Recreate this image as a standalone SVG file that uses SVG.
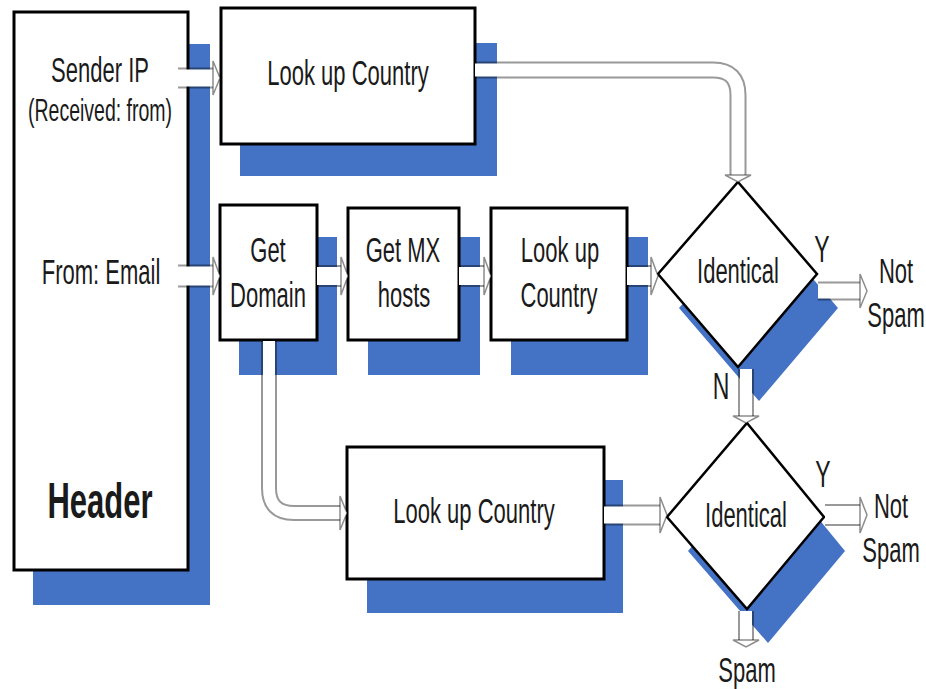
<svg xmlns="http://www.w3.org/2000/svg" width="926" height="689" viewBox="0 0 926 689">
<style>
.sh{fill:#4472C4}
.bx{fill:#fff;stroke:#000;stroke-width:3}
.dm{fill:#fff;stroke:#000;stroke-width:2.5}
.ao{fill:none;stroke:rgba(0,0,0,0.4)}
.ai{fill:none;stroke:#fff}
.ah{fill:#fff;stroke:rgba(0,0,0,0.45);stroke-width:1.5;stroke-linejoin:miter}
.t{font-family:"Liberation Sans",Arial,sans-serif;font-size:22px;fill:#1a1a1a;text-anchor:middle}
.hb{font-weight:bold;font-size:31px}
.yn{font-size:23px}
</style>
<rect width="926" height="689" fill="#fff"/>

<g id="header">
<rect class="sh" x="33" y="44" width="177" height="561"/>
<rect class="bx" x="14" y="12" width="174" height="558"/>
</g>
<g id="lookup-top">
<rect class="sh" x="240" y="43" width="257" height="133"/>
<rect class="bx" x="221" y="8" width="254" height="136"/>
</g>
<g id="get-domain">
<rect class="sh" x="239" y="237" width="98" height="138"/>
<rect class="bx" x="220" y="205" width="97" height="135"/>
</g>
<g id="get-mx">
<rect class="sh" x="368" y="237" width="112" height="138"/>
<rect class="bx" x="348" y="208" width="111" height="132"/>
</g>
<g id="lookup-mid">
<rect class="sh" x="511" y="237" width="137" height="138"/>
<rect class="bx" x="491" y="208" width="136" height="132"/>
</g>
<g id="lookup-bottom">
<rect class="sh" x="367" y="480" width="256" height="133"/>
<rect class="bx" x="347" y="447" width="257" height="132"/>
</g>
<g id="identical-1">
<polygon class="sh" points="759,216 838,308 759,401 679,308"/>
<polygon class="dm" points="738,182 817,274 738,367 658,274"/>
</g>
<g id="identical-2">
<polygon class="sh" points="768,457 845,551 768,643 688,551"/>
<polygon class="dm" points="747,423 824,517 747,609 667,517"/>
</g>

<g id="connectors">
<path class="ao" stroke-width="21" d="M178,78 H213"/><path class="ai" stroke-width="17" d="M178,78 H213"/>
<polygon class="ah" points="213,61 220,78 213,95"/>

<path class="ao" stroke-width="23" d="M178,276 H213"/><path class="ai" stroke-width="19" d="M178,276 H213"/>
<polygon class="ah" points="213,257 220,276 213,295"/>

<path class="ao" stroke-width="22" d="M317,276 H341"/><path class="ai" stroke-width="18" d="M317,276 H341"/>
<polygon class="ah" points="341,257 348,276 341,295"/>

<path class="ao" stroke-width="22" d="M459,276 H484"/><path class="ai" stroke-width="18" d="M459,276 H484"/>
<polygon class="ah" points="484,257 491,276 484,295"/>

<path class="ao" stroke-width="22" d="M627,276 H651"/><path class="ai" stroke-width="18" d="M627,276 H651"/>
<polygon class="ah" points="651,257 658,276 651,295"/>

<path class="ao" stroke-width="17" d="M475,70 H713 Q738,70 738,95 V175"/><path class="ai" stroke-width="13" d="M475,70 H713 Q738,70 738,95 V175"/>
<polygon class="ah" points="725,175 738,182 751,175"/>

<path class="ao" stroke-width="19" d="M818,291 H860"/><path class="ai" stroke-width="15" d="M818,291 H860"/>
<polygon class="ah" points="860,274 867,291 860,308"/>

<path class="ao" stroke-width="16" d="M746,369 V416"/><path class="ai" stroke-width="12" d="M746,369 V416"/>
<polygon class="ah" points="733,416 746,423 759,416"/>

<path class="ao" stroke-width="21" d="M604,515 H660"/><path class="ai" stroke-width="17" d="M604,515 H660"/>
<polygon class="ah" points="660,497 667,515 660,533"/>

<path class="ao" stroke-width="16" d="M269,341 V488 Q269,513 294,513 H340"/><path class="ai" stroke-width="12" d="M269,341 V488 Q269,513 294,513 H340"/>
<polygon class="ah" points="340,496 347,513 340,530"/>

<path class="ao" stroke-width="22" d="M825,515 H860"/><path class="ai" stroke-width="18" d="M825,515 H860"/>
<polygon class="ah" points="860,497 867,515 860,533"/>

<path class="ao" stroke-width="16" d="M746,611 V640"/><path class="ai" stroke-width="12" d="M746,611 V640"/>
<polygon class="ah" points="733,640 746,647 759,640"/>
</g>

<g id="labels">
<text class="t" transform="translate(100,82) scale(1,1.6)">Sender IP</text>
<text class="t" transform="translate(100,121) scale(1,1.6)" style="font-size:19.5px">(Received: from)</text>
<text class="t" transform="translate(101,284) scale(1,1.6)">From: Email</text>
<text class="t hb" transform="translate(100,518) scale(1,1.6)">Header</text>
<text class="t" transform="translate(348,85) scale(1,1.6)">Look up Country</text>
<text class="t" transform="translate(268,262) scale(1,1.6)">Get</text>
<text class="t" transform="translate(268,307) scale(1,1.6)">Domain</text>
<text class="t" transform="translate(403,262) scale(1,1.6)">Get MX</text>
<text class="t" transform="translate(404,307) scale(1,1.6)">hosts</text>
<text class="t" transform="translate(560,262) scale(1,1.6)">Look up</text>
<text class="t" transform="translate(559,307) scale(1,1.6)">Country</text>
<text class="t" transform="translate(738,283) scale(1,1.6)">Identical</text>
<text class="t yn" transform="translate(822,262) scale(1,1.6)">Y</text>
<text class="t" transform="translate(896,283) scale(1,1.6)">Not</text>
<text class="t" transform="translate(896,327) scale(1,1.6)">Spam</text>
<text class="t yn" transform="translate(721,399) scale(1,1.6)">N</text>
<text class="t" transform="translate(474,523) scale(1,1.6)">Look up Country</text>
<text class="t" transform="translate(746,527) scale(1,1.6)">Identical</text>
<text class="t yn" transform="translate(823,487) scale(1,1.6)">Y</text>
<text class="t" transform="translate(891,518) scale(1,1.6)">Not</text>
<text class="t" transform="translate(891,562) scale(1,1.6)">Spam</text>
<text class="t" transform="translate(747,682) scale(1,1.6)">Spam</text>
</g>
</svg>
